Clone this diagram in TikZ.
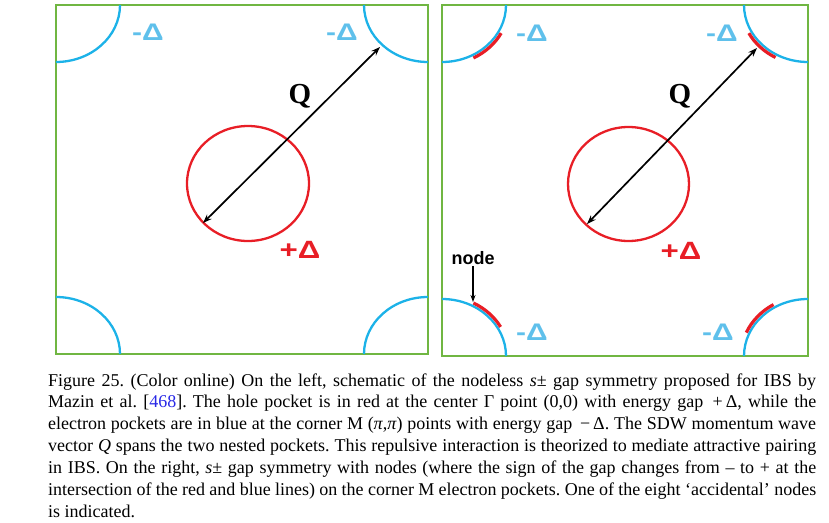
\documentclass[tikz,border=0pt]{standalone}
\usepackage{fontspec}
\setmainfont{Liberation Serif}
\newfontfamily\labelfont{Liberation Sans}
\newfontfamily\gapfont[FakeStretch=1.25]{Liberation Sans}
\usetikzlibrary{arrows.meta}

\definecolor{zonegreen}{RGB}{112,182,66}
\definecolor{pocketblue}{RGB}{28,178,232}
\definecolor{gapblue}{RGB}{95,192,235}
\definecolor{pocketred}{RGB}{232,30,38}
\definecolor{citeblue}{RGB}{40,40,230}

\tikzset{
  zone/.style={draw=zonegreen, line width=2.5pt},
  epocket/.style={draw=pocketblue, line width=2.3pt},
  hpocket/.style={draw=pocketred, line width=2.3pt},
  signarc/.style={draw=pocketred, line width=3.2pt},
  minusgap/.style={text=gapblue, inner sep=0pt, font=\gapfont\bfseries\fontsize{24}{24}\selectfont},
  plusgap/.style={text=pocketred, inner sep=0pt, font=\gapfont\bfseries\fontsize{25}{25}\selectfont},
  qlabel/.style={inner sep=0pt, font=\bfseries\fontsize{29}{29}\selectfont},
  nodelabel/.style={inner sep=1pt, font=\labelfont\bfseries\fontsize{18}{18}\selectfont},
  nesting/.style={{Stealth[length=9pt,width=6.5pt]}-{Stealth[length=9pt,width=6.5pt]}, line width=1.7pt},
  pointer/.style={-{Stealth[length=7pt,width=5pt]}, line width=1.3pt},
  caption/.style={anchor=base west, inner sep=0pt, text width=768pt, align=justify,
    font=\fontsize{18}{21.9}\selectfont}
}

\begin{document}
\frenchspacing
\begin{tikzpicture}[x=1pt,y=-1pt]
	\useasboundingbox (0,0) rectangle (829,522);

	% left: nodeless s+-
	\draw[zone] (56,5) rectangle (428,354);
	\foreach \cx/\cy/\a in {56/5/0, 428/5/90, 428/354/180, 56/354/270}{
	   \draw[epocket, shift={(\cx,\cy)}] (\a:64 and 57) arc [start angle=\a, end angle=\a+90, x radius=64, y radius=57];
	}
	\draw[hpocket] (248,183.5) ellipse [x radius=61, y radius=57.5];

	\coordinate (lgamma) at (203,223);
	\coordinate (lcorner) at (380,47);
	\draw[nesting] (lgamma) -- (lcorner);

	\node[qlabel] (lq) at (300,96) {Q};
	\node[plusgap] (lplus) at (300,250) {+Δ};
	\node[minusgap] (lminusa) at (148,32) {-Δ};
	\node[minusgap] (lminusb) at (342,32) {-Δ};

	% right: s+- with nodes
	\draw[zone] (442,5) rectangle (808,356);
	\foreach \cx/\cy/\a in {442/5/0, 808/5/90, 808/356/180, 442/356/270}{
	   \draw[epocket, shift={(\cx,\cy)}] (\a:64 and 57) arc [start angle=\a, end angle=\a+90, x radius=64, y radius=57];
	}
	\foreach \cx/\cy/\s/\e in {442/5/28/62, 808/5/119/152, 808/356/203/239, 442/356/298/331}{
	   \draw[signarc, shift={(\cx,\cy)}] (\s:67 and 60) arc [start angle=\s, end angle=\e, x radius=67, y radius=60];
	}
	\draw[hpocket] (628.5,184) ellipse [x radius=60.5, y radius=57];

	\coordinate (rgamma) at (587,224);
	\coordinate (rcorner) at (757,48);
	\draw[nesting] (rgamma) -- (rcorner);

	\node[qlabel] (rq) at (680,96) {Q};
	\node[plusgap] (rplus) at (681,251) {+Δ};
	\node[minusgap] (rminusa) at (532,33) {-Δ};
	\node[minusgap] (rminusb) at (722,33) {-Δ};
	\node[minusgap] (rminusc) at (532,332) {-Δ};
	\node[minusgap] (rminusd) at (718,332) {-Δ};

	\node[nodelabel] (nd) at (473,258) {node};
	\coordinate (ndpt) at (473,302);
	\draw[pointer] (nd) -- (ndpt);

	\node[caption] (cap) at (48,386) {Figure\ 25. (Color online) On the left, schematic of the nodeless \textit{s}±\ gap symmetry proposed for IBS by\linebreak
	Mazin et al. [{\color{citeblue}468}]. The hole pocket is in red at the center Γ point (0,0) with energy gap \,+\,Δ, while the\linebreak
	electron pockets are in blue at the corner M (\textit{π},\textit{π}) points with energy gap \,−\,Δ. The SDW momentum wave\linebreak
	vector \textit{Q} spans the two nested pockets. This repulsive interaction is theorized to mediate attractive pairing\linebreak
	in IBS. On the right, \textit{s}±\ gap symmetry with nodes (where the sign of the gap changes from – to + at the\linebreak
	intersection of the red and blue lines) on the corner M electron pockets. One of the eight ‘accidental’ nodes\linebreak
	is indicated.};
\end{tikzpicture}
\end{document}
